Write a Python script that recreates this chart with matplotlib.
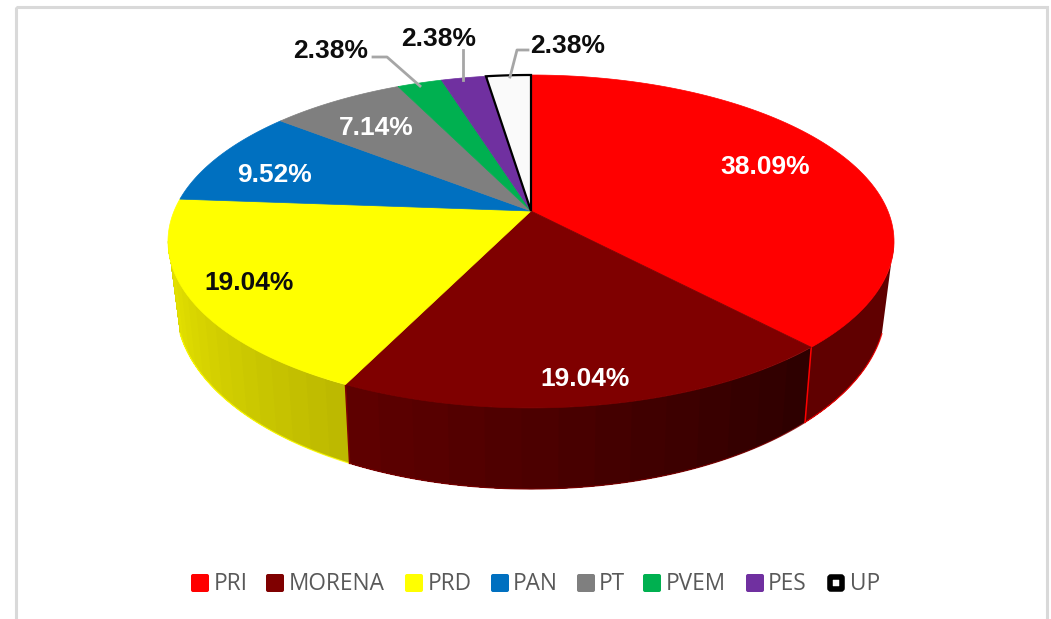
#!/usr/bin/env python3
import matplotlib
matplotlib.use('Agg')
import matplotlib.pyplot as plt
from matplotlib.colors import to_rgb
from matplotlib.patches import FancyBboxPatch, Rectangle
import numpy as np

parties = ['PRI', 'MORENA', 'PRD', 'PAN', 'PT', 'PVEM', 'PES', 'UP']
shares = [38.09, 19.04, 19.04, 9.52, 7.14, 2.38, 2.38, 2.38]
colors = ['#ff0000', '#7f0000', '#ffff00', '#0070c0', '#7f7f7f', '#00b050', '#7030a0', '#fafafa']
label_colors = ['white', 'white', '#0d0d0d', 'white', 'white', '#0d0d0d', '#0d0d0d', '#0d0d0d']

# pixel positions, the axes is laid out 1:1 with the image
label_pos = [(765, 167), (585, 379), (249, 283), (275, 175), (376, 128), (331, 51), (439, 39), (568, 46)]
leaders = {5: [(373, 57), (387, 57), (420, 86)],
           6: [(463, 50), (463, 80)],
           7: [(528, 50), (517, 50), (510, 77)]}
legend_marker_x = [191, 266, 405, 491, 577, 643, 746, 827]
legend_text_x = [214, 289, 428, 513, 599, 666, 768, 850]

# wall shading: colour at start and end of each slice's visible side
wall_shades = {0: ('#600000', '#600000'),
               1: ('#2e0000', '#5e0000'),
               2: ('#bdb900', '#e2df00')}

K = 0.183  # perspective of the tilted disc
RIGHT_TOP, RIGHT_BOTTOM = np.radians(-10.5), np.radians(-19)
LEFT_TOP, LEFT_BOTTOM = np.radians(-169.5), np.radians(-161)


def project(theta, cy, a, b):
    x, y = np.cos(theta), np.sin(theta)
    d = 1 + K * y
    return 531 + b * x / d, cy - a * y / d


def top(theta):
    return project(theta, 211, 160.9, 356.9)


def bottom(theta):
    return project(theta, 272.5, 176.9, 349.0)


def wall_band(t0, t1, color, zorder):
    # outline of the wall between two angles, closing on the silhouette at both ends
    top_ts = np.linspace(t0, t1, 60)
    bot_ts = top_ts
    if t0 >= RIGHT_BOTTOM:
        top_ts = np.linspace(RIGHT_TOP, t1, 60)
        bot_ts = np.linspace(RIGHT_BOTTOM, t1, 60)
    if t1 <= LEFT_BOTTOM:
        top_ts = np.linspace(top_ts[0], LEFT_TOP, 60)
        bot_ts = np.linspace(bot_ts[0], LEFT_BOTTOM, 60)
    xa, ya = top(top_ts)
    xb, yb = bottom(bot_ts[::-1])
    ax.fill(np.concatenate([xa, xb]), np.concatenate([ya, yb]), color=color, lw=0, zorder=zorder)


fig = plt.figure(figsize=(10.51, 6.19), dpi=100)
ax = fig.add_axes([0, 0, 1, 1])
ax.set_xlim(0, 1051)
ax.set_ylim(619, 0)
ax.axis('off')

# chart frame
ax.add_patch(Rectangle((16, 7), 1031, 640, fill=False, ec='#d9d9d9', lw=2.2, zorder=1))

fractions = np.array(shares) / sum(shares)
edges = np.pi / 2 - 2 * np.pi * np.concatenate([[0], np.cumsum(fractions)])

# side walls, only the first three slices face the viewer
wall_ranges = [(RIGHT_BOTTOM, edges[1]), (edges[1], edges[2]), (edges[2], LEFT_BOTTOM)]
for i, (t0, t1) in enumerate(wall_ranges):
    steps = 14
    ts = np.linspace(t0, t1, steps + 1)
    c0, c1 = [np.array(to_rgb(c)) for c in wall_shades[i]]
    # each band is painted through to the end of the slice so no seams show
    for j in range(steps):
        c = c0 + (c1 - c0) * j / (steps - 1)
        wall_band(ts[j], t1, c, 2)
    # thin bright rim along the bottom of the wall
    rim = np.linspace(t0, t1, 100)
    xb, yb = bottom(rim)
    ax.plot(xb, yb, color=colors[i], lw=0.9, alpha=0.8, zorder=3)
    # seam at the slice start
    if i in (1, 2):
        xa, ya = top(edges[i])
        xb, yb = bottom(edges[i])
        ax.plot([xa, xb], [ya, yb], color=colors[i - 1], lw=1.1, zorder=3)

# top of the pie
for i, color in enumerate(colors):
    ts = np.linspace(edges[i], edges[i + 1], 100)
    xs, ys = top(ts)
    xs = np.concatenate([[531], xs])
    ys = np.concatenate([[211], ys])
    if parties[i] == 'UP':
        ax.fill(xs, ys, facecolor=color, edgecolor='black', lw=1.6, zorder=5)
    else:
        ax.fill(xs, ys, facecolor=color, edgecolor=color, lw=0.5, zorder=4)

for i, pts in leaders.items():
    ax.plot(*zip(*pts), color='#a6a6a6', lw=2, zorder=6)

for i, share in enumerate(shares):
    ax.text(label_pos[i][0], label_pos[i][1], f'{share:.2f}%', color=label_colors[i],
            family='Liberation Sans', fontweight='bold', fontsize=19,
            ha='center', va='center', zorder=7)

# legend, placed by hand to keep the original spacing
for i, name in enumerate(parties):
    x = legend_marker_x[i]
    if name == 'UP':
        ax.add_patch(FancyBboxPatch((x + 3, 577), 12, 12, boxstyle='round,pad=0,rounding_size=1',
                                    fc='#fafafa', ec='black', lw=4))
    else:
        ax.add_patch(FancyBboxPatch((x, 574), 18, 18, boxstyle='round,pad=0,rounding_size=2',
                                    fc=colors[i], ec='none'))
    ax.text(legend_text_x[i], 583.5, name, color='#595959', family='Open Sans',
            fontsize=16.3, ha='left', va='center')

fig.savefig('out.png', dpi=100, facecolor='white')
